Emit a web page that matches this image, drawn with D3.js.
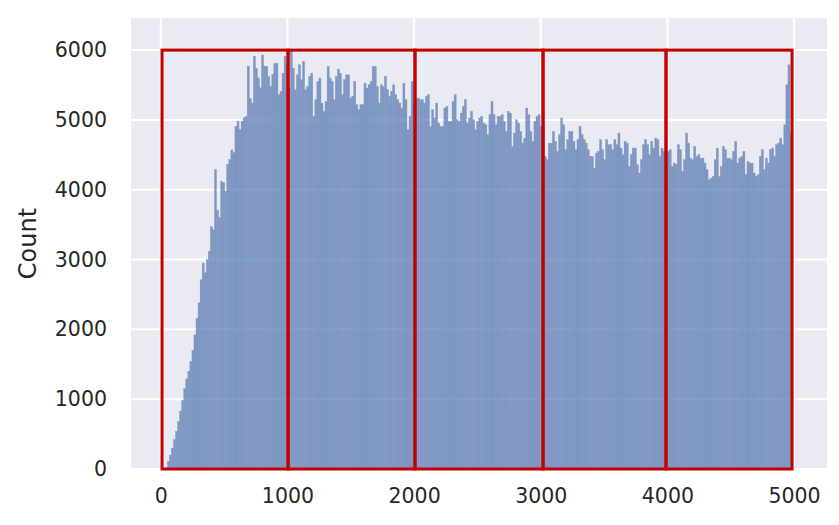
<!DOCTYPE html>
<html>
<head>
<meta charset="utf-8">
<script src="https://cdn.jsdelivr.net/npm/d3@7"></script>
<style>
  html, body { margin: 0; padding: 0; background: #ffffff; }
  svg { display: block; }
  text { font-family: "DejaVu Sans", sans-serif; fill: #262626; }
</style>
</head>
<body>
<svg id="chart" width="839" height="525"></svg>
<script>
// ---- data ----
const binStart = 52;
const binEnd = 4984;
const counts = [
  112, 200, 300, 420, 540, 680, 830, 980, 1150, 1290,
  1400, 1540, 1700, 1920, 2160, 2380, 2710, 2950, 2810, 3000,
  3120, 3470, 3430, 4290, 3710, 3600, 4120, 4100, 3980, 4360,
  4430, 4570, 4530, 4910, 4980, 4860, 4980, 5030, 5050, 5770,
  5310, 5240, 5910, 5740, 5600, 5460, 5930, 5770, 5770, 5620,
  5480, 5650, 5810, 5810, 5360, 5410, 5670, 5910,
  5800,
  5456, 5980, 5742, 5432, 5646, 5789, 5575, 5837, 5432, 5479,
  5622, 5670, 5050, 5289, 5551, 5599, 5241, 5122, 5265, 5765,
  5599, 5551, 5289, 5622, 5728, 5670, 5360, 5575, 5646, 5646,
  5313, 5337, 5551, 5217, 5146, 5217, 5217, 5527, 5456, 5503,
  5551, 5765, 5765, 5479, 5241, 5503, 5479, 5622, 5432, 5337,
  5408, 5503, 5360, 5289, 5241, 5170, 5527, 5289, 4859, 5050,
  5551, 5241, 5300, 5313, 5289, 5289, 5241, 5337,
  5360, 4906, 5146, 5026, 5241, 4955, 4906, 4906, 5170, 5193,
  4978, 4978, 5265, 5360, 5002, 4978, 5098, 5193, 5289, 4955,
  5026, 5122, 5002, 4859, 4978, 5026, 5050, 4955, 4930, 4787,
  5074, 5265, 5074, 4930, 5050, 5050, 5074, 4978, 4835, 5122,
  5098, 4620, 4811, 5002, 4955, 4835, 4668, 4740, 5170, 5074,
  4835, 4692, 4978, 5050, 5074, 4906,
  4900,
  4477, 4430, 4668, 4668, 4835, 4692, 4549, 4787, 5026, 4930,
  4573, 4716, 4835, 4835, 4692, 4573, 4716, 4906, 4787, 4716,
  4668, 4573, 4477, 4477, 4310, 4525, 4549, 4716, 4573, 4430,
  4716, 4644, 4644, 4573, 4716, 4644, 4811, 4597, 4501, 4692,
  4668, 4334, 4501, 4597, 4597, 4358, 4239, 4430, 4644, 4716,
  4644, 4501, 4692, 4597, 4740, 4716, 4477, 4597, 4549,
  4300,
  4549, 4573, 4334, 4382, 4358, 4644, 4573, 4263, 4430, 4811,
  4668, 4453, 4430, 4620, 4477, 4501, 4453, 4453, 4382, 4286,
  4143, 4167, 4191, 4430, 4597, 4191, 4334, 4620, 4573, 4453,
  4453, 4430, 4549, 4692, 4382, 4453, 4477, 4549, 4215, 4406,
  4382, 4382, 4239, 4191, 4215, 4477, 4573, 4286, 4453, 4382,
  4573, 4597, 4477, 4644, 4668, 4740, 4644, 4930, 5503, 5789, 4811
];
const rectEdges = [10, 1005, 2007, 3018, 3989, 4984];
const rectHeight = 6000;
const xTicks = [0, 1000, 2000, 3000, 4000, 5000];
const yTicks = [0, 1000, 2000, 3000, 4000, 5000, 6000];
const yLabel = "Count";

// ---- layout ----
const svg = d3.select("#chart");
const plot = { left: 131, right: 827, top: 18, bottom: 469 };
const x = d3.scaleLinear().domain([-235, 5260]).range([plot.left, plot.right]);
const y = d3.scaleLinear().domain([0, 6460]).range([plot.bottom, plot.top]);

svg.append("rect")
  .attr("x", plot.left).attr("y", plot.top)
  .attr("width", plot.right - plot.left).attr("height", plot.bottom - plot.top)
  .attr("fill", "#eaeaf2");

const g = svg.append("g");
// grid
g.selectAll("line.vg").data(xTicks).join("line")
  .attr("x1", d => x(d)).attr("x2", d => x(d))
  .attr("y1", plot.top).attr("y2", plot.bottom)
  .attr("stroke", "#ffffff").attr("stroke-width", 2);
g.selectAll("line.hg").data(yTicks).join("line")
  .attr("y1", d => y(d)).attr("y2", d => y(d))
  .attr("x1", plot.left).attr("x2", plot.right)
  .attr("stroke", "#ffffff").attr("stroke-width", 2);

// bars: group-level opacity so the grid faintly shows through without seams
const barColor = "rgb(90,123,179)";
const binW = (binEnd - binStart) / counts.length;
const bins = counts.map((c, i) => ({ x0: binStart + i * binW, x1: binStart + (i + 1) * binW, c }));
svg.append("g").attr("opacity", 0.75)
  .selectAll("rect").data(bins).join("rect")
  .attr("x", d => x(d.x0))
  .attr("width", d => x(d.x1) - x(d.x0))
  .attr("y", d => y(d.c))
  .attr("height", d => y(0) - y(d.c))
  .attr("fill", barColor)
  .attr("stroke", barColor).attr("stroke-width", 0.4);

// red rectangles
const rects = d3.range(rectEdges.length - 1).map(i => ({ a: rectEdges[i], b: rectEdges[i + 1] }));
svg.append("g").selectAll("rect").data(rects).join("rect")
  .attr("x", d => x(d.a)).attr("width", d => x(d.b) - x(d.a))
  .attr("y", y(rectHeight)).attr("height", y(0) - y(rectHeight))
  .attr("fill", "none").attr("stroke", "#c40000").attr("stroke-width", 3);

// axes (tick labels only, seaborn darkgrid style)
const xAxis = d3.axisBottom(x).tickValues(xTicks).tickSize(0).tickPadding(19).tickFormat(d3.format("d"));
const xg = svg.append("g").attr("transform", `translate(0,${plot.bottom})`).call(xAxis);
xg.select(".domain").remove();
xg.selectAll("text").style("font-size", "20.5px").attr("fill", "#262626");

const yAxis = d3.axisLeft(y).tickValues(yTicks).tickSize(0).tickPadding(24).tickFormat(d3.format("d"));
const yg = svg.append("g").attr("transform", `translate(${plot.left},0)`).call(yAxis);
yg.select(".domain").remove();
yg.selectAll("text").style("font-size", "20.5px").attr("fill", "#262626");

svg.append("text")
  .attr("transform", `translate(28,${(plot.top + plot.bottom) / 2}) rotate(-90)`)
  .attr("text-anchor", "middle").attr("dominant-baseline", "central")
  .style("font-size", "24px")
  .text(yLabel);
</script>
</body>
</html>
